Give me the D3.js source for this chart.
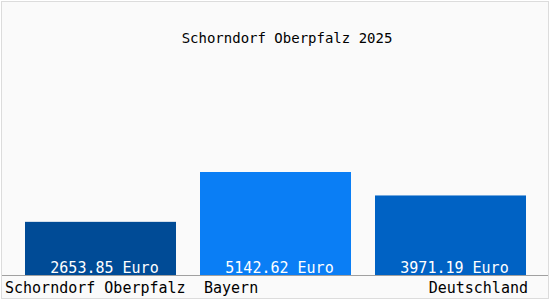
<!DOCTYPE html>
<html>
<head>
<meta charset="utf-8">
<script src="https://cdn.jsdelivr.net/npm/d3@7"></script>
<style>
  body { margin: 0; background: #fff; }
  svg { display: block; }
  text { font-family: "DejaVu Sans Mono", monospace; }
</style>
</head>
<body>
<div id="chart"></div>
<script>
const title = 'Schorndorf Oberpfalz 2025';
const regions = ['Schorndorf Oberpfalz', 'Bayern', 'Deutschland'];
const values = [2653.85, 5142.62, 3971.19];
const colors = ['#004b96', '#0a7ef5', '#0062c4'];

const width = 550, height = 300;
const baseY = 275;

const svg = d3.select('#chart').append('svg')
    .attr('width', width)
    .attr('height', height);

svg.append('rect')
    .attr('x', 1.5).attr('y', 1.5)
    .attr('width', width - 3).attr('height', height - 3)
    .style('fill', '#fafafa')
    .style('stroke', '#dcdcdc');

const x = d3.scaleBand()
    .domain(regions)
    .range([25, 526])
    .paddingInner(24 / 175)
    .paddingOuter(0);

const y = d3.scaleLinear()
    .domain([0, 5142.62])
    .range([baseY, 172]);

svg.append('text')
    .attr('x', 287)
    .attr('y', 43)
    .attr('text-anchor', 'middle')
    .style('font-size', '14px')
    .style('fill', '#000')
    .text(title);

svg.selectAll('.bar')
    .data(values)
    .enter().append('rect')
    .attr('class', 'bar')
    .attr('x', (d, i) => x(regions[i]))
    .attr('y', d => y(d))
    .attr('width', x.bandwidth())
    .attr('height', d => baseY - y(d))
    .style('fill', (d, i) => colors[i]);

svg.selectAll('.value-label')
    .data(values)
    .enter().append('text')
    .attr('class', 'value-label')
    .attr('x', (d, i) => x(regions[i]) + x.bandwidth() / 2 + 4)
    .attr('y', baseY - 2)
    .attr('text-anchor', 'middle')
    .style('font-size', '15px')
    .style('fill', '#fff')
    .text(d => d3.format('.2f')(d) + ' Euro');

svg.append('line')
    .attr('x1', 2).attr('x2', width - 2)
    .attr('y1', baseY + 0.5).attr('y2', baseY + 0.5)
    .style('stroke', '#a0a0a0');

svg.selectAll('.cat-label')
    .data(regions)
    .enter().append('text')
    .attr('class', 'cat-label')
    .attr('x', (d, i) => {
        if (i === 0) return 5;
        if (i === regions.length - 1) return x(d) + x.bandwidth() + 2;
        return x(d) + 4;
    })
    .attr('y', 293)
    .attr('text-anchor', (d, i) => i === regions.length - 1 ? 'end' : 'start')
    .style('font-size', '15px')
    .style('fill', '#000')
    .text(d => d);
</script>
</body>
</html>
